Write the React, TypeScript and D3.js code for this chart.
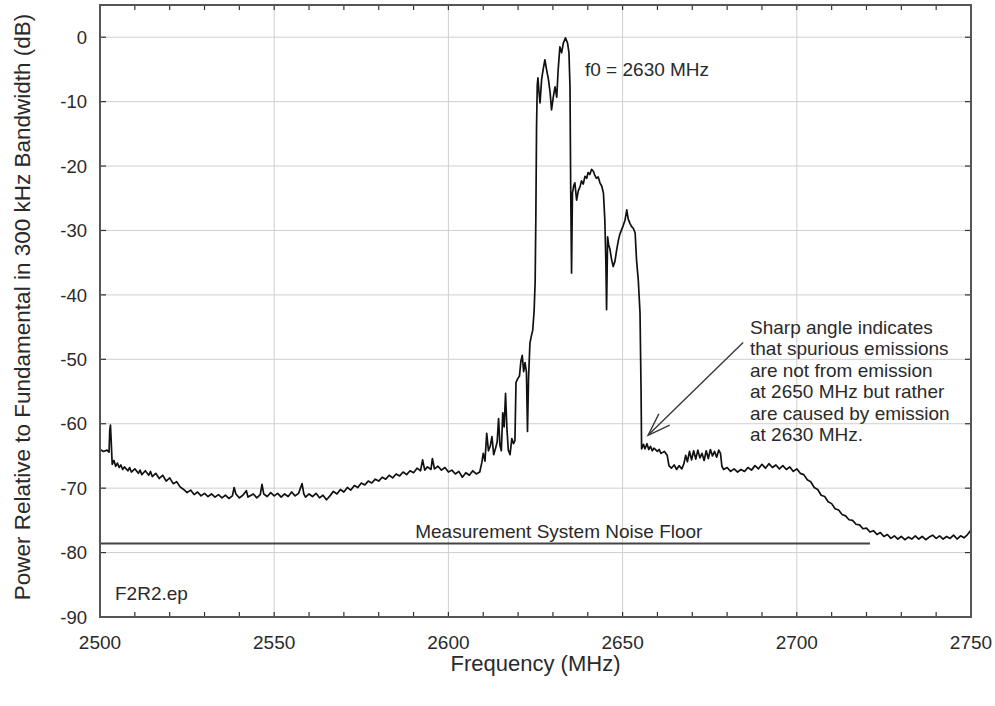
import React from "react";
import * as d3 from "d3";

// ---- data ----
const xTicks = [2500, 2550, 2600, 2650, 2700, 2750];
const xMinorTicks = d3.range(2500, 2751, 10);
const yTicks = [0, -10, -20, -30, -40, -50, -60, -70, -80, -90];
const xDomain = [2500, 2750];
const yDomain = [-90, 5];

const noiseFloorDb = -78.6;
const noiseFloorEndMHz = 2721;

const xTitle = "Frequency (MHz)";
const yTitle = "Power Relative to Fundamental in 300 kHz Bandwidth (dB)";
const fileLabel = "F2R2.ep";
const f0Label = "f0 = 2630 MHz";
const noiseFloorLabel = "Measurement System Noise Floor";
const noteLines = [
  "Sharp angle indicates",
  "that spurious emissions",
  "are not from emission",
  "at 2650 MHz but rather",
  "are caused by emission",
  "at 2630 MHz.",
];
// arrow from text to the sharp corner [MHz, dB]
const arrowFrom: [number, number] = [2684.6, -47.4];
const arrowTo: [number, number] = [2657.3, -61.8];

const traceLow: [number, number][] = [
  [2500, -64.0], [2501, -64.3], [2502, -64.1], [2502.6, -64.4], [2502.8, -61.0], [2503.0, -60.2], [2503.2, -62.5],
  [2503.5, -66.3], [2504, -65.7], [2504.5, -66.6], [2505, -66.1], [2505.5, -66.8], [2506, -66.4], [2506.5, -67.1],
  [2507, -66.7], [2508, -67.3], [2508.5, -66.8], [2509, -67.5], [2510, -67.0], [2511, -67.7], [2511.5, -67.2],
  [2512, -67.9], [2513, -67.3], [2514, -68.0], [2514.5, -67.4], [2515, -68.2], [2516, -67.7], [2517, -68.5],
  [2518, -68.0], [2519, -68.9], [2520, -68.4], [2521, -69.3], [2522, -69.0], [2523, -69.8], [2524, -70.2],
  [2525, -70.7], [2526, -70.3], [2527, -71.0], [2528, -70.6], [2529, -71.2], [2530, -70.8], [2531, -71.3],
  [2532, -70.9], [2533, -71.4], [2534, -71.0], [2535, -71.5], [2536, -71.1], [2537, -71.6], [2538, -71.2],
  [2538.5, -69.9], [2539, -70.9], [2540, -71.5], [2541, -71.1], [2542, -70.4], [2542.5, -71.4], [2543, -71.2],
  [2544, -70.9], [2545, -71.5], [2546, -71.0], [2546.5, -69.4], [2547, -70.9], [2548, -71.3], [2549, -70.7],
  [2550, -71.2], [2551, -70.8], [2552, -71.4], [2553, -70.9], [2554, -71.3], [2555, -70.6], [2556, -71.2],
  [2557, -70.8], [2558, -69.3], [2558.5, -70.9], [2559, -71.4], [2560, -70.9], [2561, -71.3], [2562, -70.8],
  [2563, -71.5], [2564, -71.1], [2565, -71.8], [2566, -71.2], [2567, -70.5], [2568, -70.9], [2569, -70.2],
  [2570, -70.6], [2571, -69.9], [2572, -70.3], [2573, -69.6], [2574, -69.9], [2575, -69.2], [2576, -69.5],
  [2577, -68.9], [2578, -69.2], [2579, -68.6], [2580, -68.9], [2581, -68.3], [2582, -68.6], [2583, -68.0],
  [2584, -68.4], [2585, -67.8], [2586, -68.1], [2587, -67.5], [2588, -67.9], [2589, -67.3], [2590, -67.6],
  [2591, -66.9], [2592, -67.3], [2592.6, -65.6], [2593.2, -67.2], [2594, -66.7], [2595, -67.1], [2595.4, -65.4],
  [2596, -67.0], [2597, -66.6], [2598, -67.2], [2599, -66.8], [2600, -67.5],
];

const traceRise: [number, number][] = [
  [2601, -67.2], [2602, -67.8], [2603, -67.4], [2604, -68.3], [2605, -67.6], [2606, -68.0], [2607, -67.3],
  [2608, -67.8], [2609, -67.5], [2609.6, -66.0], [2610, -64.6], [2610.5, -65.8], [2611, -61.5], [2611.5, -64.2],
  [2612, -63.5], [2612.5, -62.0], [2613, -64.8], [2613.5, -63.9], [2614, -62.8], [2614.4, -59.2], [2614.8, -63.4],
  [2615.2, -64.2], [2615.6, -58.3], [2616, -60.5], [2616.4, -55.3], [2616.8, -60.8], [2617.2, -64.1],
  [2617.7, -64.8], [2618.2, -62.3], [2618.7, -63.1], [2619.1, -62.6], [2619.4, -53.6], [2619.9, -53.0],
  [2620.4, -52.6], [2620.8, -50.3], [2621.2, -49.4], [2621.6, -51.9], [2622.0, -50.5], [2622.4, -52.0],
  [2622.7, -61.2], [2623.0, -53.0], [2623.4, -47.5], [2623.8, -46.4], [2624.2, -45.5], [2624.6, -42.5],
  [2624.9, -38.0], [2625.1, -28], [2625.3, -14], [2625.5, -7.5], [2625.7, -6.3],
];

const tracePeak: [number, number][] = [
  [2626.0, -8.5], [2626.3, -10.2], [2626.75, -6.6], [2627.2, -5.0], [2627.7, -3.5], [2628.2, -5.1],
  [2628.7, -6.5], [2629.2, -8.6], [2629.6, -11.3], [2630.1, -9.3], [2630.6, -7.7], [2631.1, -9.3],
  [2631.5, -5.1], [2632.0, -1.5], [2632.5, -2.4], [2633.0, -0.9], [2633.6, -0.1], [2634.2, -0.9],
  [2634.6, -2.4], [2634.9, -7.7], [2635.1, -23.2], [2635.35, -36.6], [2635.6, -24.2], [2636.0, -23.0],
  [2636.3, -22.6], [2636.8, -25.3], [2637.3, -23.8], [2637.8, -23.2], [2638.2, -22.3], [2638.7, -22.8],
  [2639.2, -21.6], [2639.7, -21.9], [2640.1, -21.0], [2640.6, -21.3], [2641.1, -20.5], [2641.6, -20.8],
  [2642.0, -21.4], [2642.5, -21.9], [2643.0, -21.7], [2643.5, -22.6], [2644.0, -23.1], [2644.5, -24.2],
  [2644.9, -28.4], [2645.2, -35], [2645.4, -42.3], [2645.7, -31.0], [2646.0, -32.2], [2646.4, -33.0],
  [2646.8, -34.4], [2647.3, -35.6], [2647.8, -34.8], [2648.3, -33.0], [2648.8, -31.5], [2649.2, -30.6],
  [2649.7, -29.9], [2650.2, -29.2], [2650.7, -28.4], [2651.2, -26.8], [2651.6, -28.2], [2652.1, -28.9],
  [2652.6, -29.4], [2653.1, -29.7], [2653.6, -30.4], [2654.0, -34.6], [2654.5, -37.7], [2655.0, -42.8],
  [2655.3, -55], [2655.45, -63.9],
];

const traceHigh: [number, number][] = [
  [2656, -63.2], [2656.4, -63.9], [2657, -63.1], [2657.5, -64.0], [2658, -63.5], [2658.5, -64.2], [2659, -63.8],
  [2660, -64.3], [2660.5, -64.0], [2661, -64.6], [2662, -64.3], [2662.8, -64.9], [2663.3, -66.5], [2664, -66.9],
  [2664.8, -66.4], [2665.5, -67.1], [2666.2, -66.5], [2667, -67.0], [2667.6, -66.2], [2668.1, -64.9],
  [2668.6, -65.9], [2669.2, -64.3], [2669.8, -65.6], [2670.4, -64.2], [2671.0, -65.5], [2671.6, -64.1],
  [2672.2, -65.3], [2672.8, -64.6], [2673.4, -65.7], [2674.0, -64.2], [2674.6, -65.4], [2675.2, -64.0],
  [2675.8, -65.0], [2676.4, -64.3], [2677.0, -65.2], [2677.6, -64.1], [2678.1, -64.6], [2678.5, -66.6],
  [2679, -67.1], [2680, -66.8], [2681, -67.4], [2682, -67.0], [2683, -67.5], [2684, -67.1], [2685, -67.4],
  [2686, -66.8], [2687, -67.2], [2688, -66.5], [2689, -67.0], [2690, -66.3], [2691, -66.9], [2692, -66.2],
  [2693, -66.8], [2694, -66.4], [2695, -67.0], [2696, -66.5], [2697, -67.1], [2698, -66.7], [2699, -67.4],
  [2700, -67.0], [2701, -67.7], [2702, -67.9], [2703, -68.7], [2704, -69.0], [2705, -69.9], [2706, -70.2],
  [2707, -71.1], [2708, -71.3], [2709, -72.1], [2710, -72.4], [2711, -73.2], [2712, -73.4], [2713, -74.1],
  [2714, -74.3], [2715, -74.9], [2716, -75.0], [2717, -75.6], [2718, -75.7], [2719, -76.3], [2720, -76.2],
  [2721, -76.8], [2722, -76.6], [2723, -77.2], [2724, -76.9], [2725, -77.5], [2726, -77.2], [2727, -77.8],
  [2728, -77.4], [2729, -77.9], [2730, -77.5], [2731, -78.0], [2732, -77.6], [2733, -77.9], [2734, -77.4],
  [2735, -77.9], [2736, -77.5], [2737, -78.0], [2738, -77.6], [2739, -77.3], [2740, -77.8], [2741, -77.4],
  [2742, -77.9], [2743, -77.5], [2744, -77.8], [2745, -77.3], [2746, -77.9], [2747, -77.4], [2748, -77.7],
  [2749, -77.2], [2750, -76.5],
];

const trace = [...traceLow, ...traceRise, ...tracePeak, ...traceHigh];

// ---- layout ----
const W = 995;
const H = 706;
const L = 100;
const R = 971;
const T = 5;
const B = 617;
const FONT = "'Liberation Sans', Arial, Helvetica, sans-serif";
const TEXT = "#2a2a2a";
const FS = 19;

export default function App() {
  const x = d3.scaleLinear().domain(xDomain).range([L, R]);
  const y = d3.scaleLinear().domain(yDomain).range([B, T]);
  const line = d3
    .line<[number, number]>()
    .x((d) => x(d[0]))
    .y((d) => y(d[1]));

  const ax = x(arrowFrom[0]);
  const ay = y(arrowFrom[1]);
  const tx = x(arrowTo[0]);
  const ty = y(arrowTo[1]);
  const ang = Math.atan2(ay - ty, ax - tx);
  const headLen = 24;
  const spread = 0.33;
  const h1 = [tx + headLen * Math.cos(ang - spread), ty + headLen * Math.sin(ang - spread)];
  const h2 = [tx + headLen * Math.cos(ang + spread), ty + headLen * Math.sin(ang + spread)];

  return (
    <svg
      width={W}
      height={H}
      style={{ position: "absolute", left: 0, top: 0, background: "#fff" }}
      fontFamily={FONT}
    >
      <rect x={0} y={0} width={W} height={H} fill="#fff" />
      {/* grid */}
      <g stroke="#cfcfcf" strokeWidth={1}>
        {xTicks.slice(1, -1).map((t) => (
          <line key={"gx" + t} x1={x(t)} x2={x(t)} y1={T} y2={B} />
        ))}
        {yTicks.slice(0, -1).map((t) => (
          <line key={"gy" + t} x1={L} x2={R} y1={y(t)} y2={y(t)} />
        ))}
      </g>
      {/* ticks */}
      <g stroke="#333" strokeWidth={1.2}>
        {xMinorTicks.map((t) => (
          <g key={"mx" + t}>
            <line x1={x(t)} x2={x(t)} y1={B} y2={B - 5} />
            <line x1={x(t)} x2={x(t)} y1={T} y2={T + 5} />
          </g>
        ))}
        {yTicks.map((t) => (
          <g key={"my" + t}>
            <line x1={L} x2={L + 6} y1={y(t)} y2={y(t)} />
            <line x1={R} x2={R - 6} y1={y(t)} y2={y(t)} />
          </g>
        ))}
      </g>
      {/* noise floor */}
      <line
        x1={x(xDomain[0])}
        x2={x(noiseFloorEndMHz)}
        y1={y(noiseFloorDb)}
        y2={y(noiseFloorDb)}
        stroke="#444"
        strokeWidth={2}
      />
      <text x={x(2631.7)} y={y(noiseFloorDb) - 6} fontSize={FS} fill={TEXT} textAnchor="middle">
        {noiseFloorLabel}
      </text>
      {/* trace */}
      <path d={line(trace) || ""} fill="none" stroke="#111" strokeWidth={1.7} strokeLinejoin="round" />
      {/* frame */}
      <rect x={L} y={T} width={R - L} height={B - T} fill="none" stroke="#555" strokeWidth={2} />
      {/* tick labels */}
      {yTicks.map((t) => (
        <text key={"yl" + t} x={87} y={y(t)} dy="0.36em" fontSize={18.5} fill={TEXT} textAnchor="end">
          {t}
        </text>
      ))}
      {xTicks.map((t) => (
        <text key={"xl" + t} x={x(t)} y={649} fontSize={FS} fill={TEXT} textAnchor="middle">
          {t}
        </text>
      ))}
      {/* axis titles */}
      <text x={(L + R) / 2} y={671} fontSize={22} fill={TEXT} textAnchor="middle">
        {xTitle}
      </text>
      <text
        transform={`translate(30, 307) rotate(-90)`}
        fontSize={22.5}
        fill={TEXT}
        textAnchor="middle"
      >
        {yTitle}
      </text>
      {/* annotations */}
      <text x={585} y={76} fontSize={FS} fill={TEXT}>
        {f0Label}
      </text>
      <text x={115} y={600} fontSize={FS} fill={TEXT}>
        {fileLabel}
      </text>
      {noteLines.map((s, i) => (
        <text key={"n" + i} x={750} y={334 + i * 21.4} fontSize={FS} fill={TEXT}>
          {s}
        </text>
      ))}
      <g stroke="#333" strokeWidth={1.3} fill="none">
        <line x1={ax} y1={ay} x2={tx} y2={ty} />
        <polyline points={`${h1[0]},${h1[1]} ${tx},${ty} ${h2[0]},${h2[1]}`} />
      </g>
    </svg>
  );
}
